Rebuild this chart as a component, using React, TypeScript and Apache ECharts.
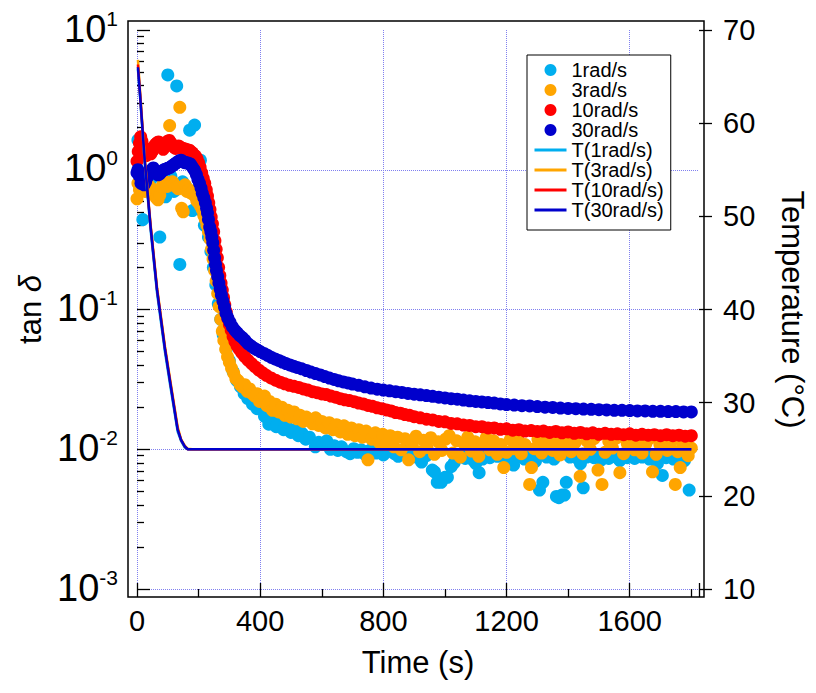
import React, { useEffect, useRef } from "react";
import * as echarts from "echarts";

const FONT = '"Liberation Sans", Arial, Helvetica, sans-serif';

// ---- tan δ data: [time (s), tan δ] ----
const tanD_1rad: [number, number][] = [
  [3,1.63],[10,0.95],[19,0.44],[30,0.72],[45,0.85],[60,0.68],[74,0.33],[85,0.78],[93,0.64],[100,4.77],[110,0.90],[120,0.70],[129,3.98],[139,0.21],[148,0.82],[160,0.75],[171,1.92],[180,0.51],[187,2.09],[195,0.62],[206,1.17],[213,0.50],[219,0.40],[225,0.42],[232,0.33],[240,0.26],[248,0.20],[256,0.15],[264,0.11],[272,0.085],[280,0.066],[290,0.052],[300,0.043],[312,0.036],[324,0.031],[336,0.028],[348,0.025],[360,0.023],[375,0.021],[390,0.0195],[402,0.020],[414,0.0172],[428,0.0151],[440,0.016],[452,0.0145],[464,0.0152],[476,0.0138],[488,0.0143],[500,0.0132],[512,0.0138],[524,0.0125],[536,0.013],[548,0.0118],[560,0.0122],[579,0.0104],[590,0.0112],[604,0.0108],[616,0.0115],[628,0.0100],[640,0.0106],[652,0.0098],[664,0.0104],[680,0.0096],[692,0.0093],[704,0.0101],[716,0.0095],[728,0.0099],[740,0.0092],[752,0.0097],[764,0.0101],[776,0.0094],[788,0.0098],[800,0.0091],[812,0.0096],[824,0.0100],[836,0.0093],[848,0.0089],[860,0.0095],[872,0.0099],[884,0.0092],[896,0.0096],[908,0.0088],[924,0.0081],[940,0.0090],[959,0.0071],[966,0.0069],[975,0.0058],[988,0.0058],[1000,0.0063],[1008,0.0063],[1020,0.0075],[1030,0.008],[1042,0.0088],[1054,0.0093],[1066,0.0086],[1078,0.0091],[1090,0.0084],[1100,0.0079],[1111,0.0068],[1122,0.0085],[1134,0.0092],[1146,0.0087],[1158,0.0094],[1170,0.0089],[1182,0.0091],[1194,0.0086],[1206,0.0093],[1223,0.0077],[1234,0.0088],[1246,0.0093],[1258,0.0085],[1270,0.0091],[1282,0.0087],[1294,0.0082],[1307,0.0051],[1318,0.0058],[1330,0.0088],[1342,0.0093],[1354,0.0085],[1362,0.0046],[1370,0.0045],[1380,0.0047],[1388,0.0047],[1394,0.0058],[1406,0.0088],[1418,0.0093],[1430,0.0086],[1440,0.0079],[1449,0.0053],[1460,0.0088],[1472,0.0094],[1484,0.0087],[1496,0.0091],[1508,0.0084],[1520,0.0093],[1532,0.0086],[1544,0.0091],[1556,0.0088],[1568,0.0083],[1580,0.0092],[1592,0.0087],[1604,0.0094],[1616,0.0086],[1628,0.0091],[1640,0.0088],[1652,0.0093],[1664,0.0085],[1676,0.0089],[1690,0.0079],[1706,0.0065],[1718,0.0087],[1730,0.0092],[1742,0.0085],[1754,0.0091],[1766,0.0086],[1778,0.0083],[1793,0.0051]
];

const tanD_3rad: [number, number][] = [
  [0,0.62],[3,0.80],[8,0.72],[14,0.86],[20,0.80],[26,0.70],[32,0.82],[38,0.77],[44,0.74],[50,0.68],[56,0.72],[62,0.63],[68,0.61],[74,0.66],[80,0.75],[86,0.84],[92,0.80],[98,0.76],[106,2.07],[115,0.82],[122,0.78],[128,0.75],[134,0.73],[139,2.80],[145,0.53],[150,0.50],[156,0.78],[162,0.70],[168,0.72],[175,0.68],[182,0.70],[188,0.65],[194,0.60],[200,0.58],[206,0.55],[212,0.52],[217,0.47],[222,0.44],[227,0.40],[232,0.36],[237,0.32],[242,0.27],[247,0.23],[252,0.19],[257,0.16],[262,0.13],[267,0.105],[272,0.085],[277,0.07],[282,0.06],[288,0.052],[294,0.046],[300,0.042],[307,0.038],[314,0.035],[321,0.032],[328,0.031],[335,0.029],[342,0.028],[350,0.029],[358,0.026],[366,0.027],[374,0.025],[382,0.024],[390,0.025],[398,0.022],[406,0.0225],[414,0.024],[422,0.0205],[430,0.022],[440,0.019],[450,0.021],[460,0.0185],[470,0.020],[480,0.0175],[490,0.019],[500,0.017],[510,0.0185],[520,0.0165],[530,0.0175],[540,0.0158],[550,0.017],[560,0.0162],[570,0.0152],[580,0.0168],[590,0.0148],[600,0.0158],[612,0.0142],[624,0.0155],[636,0.0138],[648,0.015],[660,0.0133],[672,0.0147],[684,0.0128],[696,0.0142],[708,0.0125],[720,0.0138],[732,0.0122],[744,0.0135],[750,0.0084],[762,0.0118],[774,0.0131],[786,0.0112],[798,0.0128],[810,0.0108],[822,0.0125],[834,0.0104],[846,0.0122],[858,0.0099],[870,0.0119],[882,0.0084],[894,0.0108],[906,0.0124],[918,0.0096],[930,0.0116],[942,0.0103],[954,0.0121],[966,0.0092],[978,0.0113],[990,0.0098],[1002,0.0118],[1014,0.0125],[1026,0.0094],[1038,0.0115],[1050,0.0088],[1062,0.011],[1074,0.0122],[1086,0.0097],[1098,0.0113],[1110,0.0089],[1122,0.0108],[1134,0.0121],[1146,0.0099],[1158,0.0115],[1170,0.0092],[1182,0.0108],[1191,0.0074],[1200,0.0095],[1212,0.0117],[1224,0.0101],[1236,0.0119],[1248,0.0093],[1260,0.0108],[1275,0.0056],[1281,0.0074],[1290,0.0101],[1302,0.0118],[1314,0.0094],[1326,0.0109],[1338,0.0122],[1350,0.0098],[1362,0.0113],[1374,0.0091],[1386,0.0107],[1398,0.012],[1410,0.0096],[1422,0.0111],[1439,0.0064],[1448,0.0093],[1460,0.0115],[1472,0.01],[1484,0.0119],[1497,0.0071],[1510,0.0056],[1520,0.0095],[1532,0.0114],[1544,0.0102],[1556,0.012],[1568,0.0068],[1580,0.0093],[1592,0.011],[1604,0.0121],[1616,0.0099],[1628,0.0114],[1640,0.0094],[1652,0.0109],[1664,0.0119],[1674,0.0069],[1686,0.0092],[1698,0.0108],[1710,0.012],[1722,0.0098],[1734,0.0113],[1748,0.0056],[1756,0.0096],[1764,0.0074],[1772,0.0107],[1780,0.0116],[1790,0.009],[1800,0.0102]
];

const tanD_10rad: [number, number][] = [
  [0,1.15],[4,1.35],[8,1.55],[12,1.72],[16,1.60],[20,1.46],[25,1.32],[30,1.26],[35,1.35],[40,1.40],[45,1.30],[50,1.36],[55,1.46],[60,1.52],[65,1.56],[70,1.58],[75,1.55],[80,1.46],[85,1.40],[90,1.48],[95,1.56],[100,1.60],[105,1.62],[110,1.56],[115,1.50],[120,1.45],[125,1.42],[130,1.46],[135,1.48],[140,1.45],[145,1.43],[150,1.42],[155,1.40],[160,1.40],[165,1.38],[170,1.38],[175,1.35],[180,1.32],[185,1.28],[190,1.25],[195,1.20],[200,1.12],[205,1.04],[210,0.95],[215,0.87],[220,0.80],[225,0.72],[229,0.65],[233,0.58],[237,0.52],[241,0.46],[245,0.41],[249,0.36],[253,0.31],[257,0.27],[261,0.235],[265,0.20],[269,0.175],[273,0.155],[277,0.138],[281,0.122],[285,0.108],[290,0.096],[295,0.086],[300,0.078],[306,0.071],[312,0.064],[318,0.059],[325,0.055],[332,0.052],[340,0.049],[350,0.046],[360,0.0435],[372,0.041],[384,0.0388],[396,0.0368],[408,0.0352],[420,0.0338],[435,0.0324],[450,0.0312],[465,0.0302],[480,0.0294],[495,0.0287],[510,0.0282],[525,0.0277],[540,0.0270],[555,0.0265],[570,0.0258],[585,0.0254],[600,0.0249],[615,0.0246],[630,0.0240],[645,0.0236],[660,0.0230],[675,0.0226],[690,0.0223],[705,0.0219],[720,0.0214],[735,0.0211],[750,0.0206],[765,0.0203],[780,0.0198],[795,0.0195],[810,0.0191],[825,0.0188],[840,0.0183],[855,0.0181],[870,0.0177],[885,0.0175],[900,0.0171],[920,0.0168],[940,0.0164],[960,0.0162],[980,0.0158],[1000,0.0157],[1020,0.0153],[1040,0.0152],[1060,0.0149],[1080,0.0148],[1100,0.0145],[1120,0.0145],[1140,0.0142],[1160,0.0142],[1180,0.0139],[1200,0.0140],[1220,0.0137],[1240,0.0138],[1260,0.0135],[1280,0.0136],[1300,0.0134],[1320,0.0135],[1340,0.0132],[1360,0.0134],[1380,0.0131],[1400,0.0133],[1420,0.0130],[1440,0.0132],[1460,0.0129],[1480,0.0131],[1500,0.0128],[1520,0.0130],[1540,0.0128],[1560,0.0129],[1580,0.0127],[1600,0.0129],[1620,0.0126],[1640,0.0128],[1660,0.0126],[1680,0.0127],[1700,0.0125],[1720,0.0127],[1740,0.0125],[1760,0.0126],[1780,0.0124],[1800,0.0125]
];

const tanD_30rad: [number, number][] = [
  [0,0.95],[3,1.0],[8,0.90],[13,0.80],[18,0.84],[23,0.78],[28,0.82],[33,0.88],[38,0.94],[43,0.97],[48,1.0],[53,1.03],[58,0.98],[63,0.94],[68,0.92],[73,0.93],[78,0.96],[83,0.98],[88,1.0],[93,1.01],[98,1.02],[103,1.03],[108,1.04],[113,1.06],[118,1.08],[123,1.10],[128,1.12],[133,1.14],[138,1.16],[143,1.17],[148,1.15],[153,1.13],[158,1.12],[163,1.12],[168,1.11],[173,1.10],[178,1.06],[183,1.02],[188,0.98],[193,0.92],[198,0.85],[203,0.80],[208,0.74],[212,0.68],[217,0.63],[222,0.58],[226,0.53],[229,0.49],[232,0.44],[236,0.39],[240,0.36],[243,0.33],[246,0.30],[249,0.265],[252,0.235],[255,0.21],[258,0.19],[262,0.172],[266,0.155],[270,0.14],[274,0.127],[279,0.115],[284,0.104],[289,0.094],[295,0.087],[302,0.081],[310,0.075],[318,0.071],[326,0.068],[334,0.065],[342,0.063],[351,0.060],[360,0.057],[370,0.055],[380,0.053],[390,0.0515],[400,0.050],[412,0.0485],[424,0.047],[436,0.0455],[448,0.0443],[460,0.0432],[472,0.0421],[484,0.041],[496,0.0401],[508,0.0393],[520,0.0385],[535,0.0376],[550,0.0366],[565,0.0357],[580,0.0348],[595,0.034],[610,0.0331],[625,0.0323],[640,0.0316],[655,0.0309],[670,0.0303],[685,0.0298],[700,0.0293],[720,0.0287],[740,0.0280],[760,0.0274],[780,0.0269],[800,0.0265],[820,0.0262],[840,0.0258],[860,0.0255],[880,0.0251],[900,0.0248],[920,0.0245],[940,0.0242],[960,0.0239],[980,0.0236],[1000,0.0233],[1020,0.0230],[1040,0.0228],[1060,0.0225],[1080,0.0222],[1100,0.0220],[1120,0.0218],[1140,0.0216],[1160,0.0214],[1180,0.0211],[1200,0.0209],[1225,0.0207],[1250,0.0205],[1275,0.0204],[1300,0.0202],[1325,0.0200],[1350,0.0199],[1375,0.0197],[1400,0.0196],[1425,0.0195],[1450,0.0194],[1475,0.0193],[1500,0.0192],[1525,0.0191],[1550,0.0190],[1575,0.0190],[1600,0.0189],[1625,0.0188],[1650,0.0188],[1675,0.0187],[1700,0.0187],[1725,0.0186],[1750,0.0186],[1775,0.0185],[1800,0.0185]
];

// ---- temperature data (°C) ----
const tempTime = [3, 10, 25, 44, 65, 91, 108, 132, 143, 155, 165, 180, 400, 800, 1200, 1600, 1800];
const temp_1rad = [65.8, 62.8, 55.8, 48.6, 41.8, 35.4, 31.8, 26.9, 25.9, 25.2, 25.0, 25.0, 25.0, 25.0, 25.0, 25.0, 25.0];
const temp_3rad = [66.8, 63.4, 56.3, 49.2, 42.4, 36.0, 32.4, 27.4, 26.1, 25.4, 25.05, 25.0, 25.0, 25.0, 25.0, 25.0, 25.0];
const temp_10rad = [66.3, 63.1, 56.1, 49.0, 42.2, 35.8, 32.2, 27.2, 26.0, 25.3, 25.0, 25.0, 25.0, 25.0, 25.0, 25.0, 25.0];
const temp_30rad = [66.0, 63.0, 56.0, 48.9, 42.1, 35.7, 32.1, 27.1, 26.0, 25.3, 25.0, 25.0, 25.0, 25.0, 25.0, 25.0, 25.0];

const scatterNames = ["1rad/s", "3rad/s", "10rad/s", "30rad/s"];
const lineNames = ["T(1rad/s)", "T(3rad/s)", "T(10rad/s)", "T(30rad/s)"];
const colors = ["#00AEEF", "#FFA500", "#FF0000", "#0000CC"];

const X_MIN = 0;
const X_MAX = 1825;
const X_INTERVAL = 400;
const TAN_MIN = 0.001;
const TAN_MAX = 10;
const T_MIN = 10;
const T_MAX = 70;
const T_INTERVAL = 10;

const zip = (t: number[], v: number[]) => t.map((x, i) => [x, v[i]]);

export default function App() {
  const ref = useRef<HTMLDivElement>(null);

  useEffect(() => {
    document.body.style.margin = "0";
    if (!ref.current) return;
    const chart = echarts.init(ref.current, undefined, { renderer: "svg" });

    const gridLine = { show: true, showMaxLine: false, lineStyle: { color: "#8080f0", type: "dotted", width: 1 } };
    const tickStyle = { color: "#000", width: 1.3 };

    const scatterData = [tanD_1rad, tanD_3rad, tanD_10rad, tanD_30rad];
    const temps = [temp_1rad, temp_3rad, temp_10rad, temp_30rad];

    const option: any = {
      animation: false,
      backgroundColor: "#fff",
      textStyle: { fontFamily: FONT },
      grid: { left: 137, top: 30, width: 567, height: 559, containLabel: false },
      legend: {
        orient: "vertical",
        left: 527,
        top: 55,
        itemWidth: 32,
        itemHeight: 12,
        itemGap: 0,
        itemTextGap: 12,
        padding: [5, 7, 10, 6],
        borderColor: "#000",
        borderWidth: 1,
        backgroundColor: "#fff",
        textStyle: { fontSize: 20, fontFamily: FONT, color: "#000" },
        data: [
          ...scatterNames.map((name) => ({ name })),
          ...lineNames.map((name) => ({ name, itemStyle: { opacity: 0 }, lineStyle: { width: 3 } })),
        ],
      },
      graphic: [
        {
          type: "rect",
          shape: { x: 128, y: 21, width: 576, height: 576 },
          style: { fill: "none", stroke: "#000", lineWidth: 1.5 },
          z: 100,
          silent: true,
        },
      ],
      xAxis: {
        type: "value",
        min: X_MIN,
        max: X_MAX,
        interval: X_INTERVAL,
        offset: 8,
        axisLine: { show: false },
        axisTick: { show: true, inside: true, length: 14, lineStyle: tickStyle },
        minorTick: { show: true, splitNumber: 2, length: 8, lineStyle: tickStyle },
        axisLabel: {
          fontSize: 29,
          fontFamily: FONT,
          color: "#000",
          margin: 9,
          showMaxLabel: false,
          formatter: (v: number) => (v % X_INTERVAL === 0 ? String(v) : ""),
        },
        splitLine: gridLine,
        name: "Time (s)",
        nameLocation: "middle",
        nameGap: 50,
        nameTextStyle: { fontSize: 31, fontFamily: FONT, color: "#000" },
      },
      yAxis: [
        {
          type: "log",
          logBase: 10,
          min: TAN_MIN,
          max: TAN_MAX,
          position: "left",
          offset: 9,
          axisLine: { show: false },
          axisTick: { show: true, inside: true, length: 13, lineStyle: tickStyle },
          minorTick: { show: true, splitNumber: 9, length: 7, lineStyle: tickStyle },
          axisLabel: {
            margin: 10,
            padding: [0, 0, 5, 0],
            formatter: (v: number) => `{b|10}{s|${Math.round(Math.log10(v))}}`,
            rich: {
              b: { fontSize: 38, fontFamily: FONT, color: "#000", lineHeight: 40, padding: [5, 0, 0, 0], verticalAlign: "bottom" },
              s: { fontSize: 21, fontFamily: FONT, color: "#000", lineHeight: 21, verticalAlign: "top" },
            },
          },
          splitLine: gridLine,
          name: "{a|tan }{d|δ}",
          nameLocation: "middle",
          nameRotate: 90,
          nameGap: 76,
          nameTextStyle: {
            rich: {
              a: { fontSize: 31, fontFamily: FONT, color: "#000" },
              d: { fontSize: 31, fontFamily: FONT, color: "#000", fontStyle: "italic" },
            },
          },
        },
        {
          type: "value",
          min: T_MIN,
          max: T_MAX,
          interval: T_INTERVAL,
          position: "right",
          axisLine: { show: false },
          axisTick: { show: true, inside: false, length: 13, lineStyle: tickStyle },
          axisLabel: { fontSize: 29, fontFamily: FONT, color: "#000", margin: 24 },
          splitLine: { show: false },
          name: "Temperature (°C)",
          nameLocation: "middle",
          nameRotate: -90,
          nameGap: 78,
          nameTextStyle: { fontSize: 31, fontFamily: FONT, color: "#000" },
        },
      ],
      series: [
        ...scatterNames.map((name, i) => ({
          name,
          type: "scatter",
          yAxisIndex: 0,
          symbol: "circle",
          symbolSize: 13,
          itemStyle: { color: colors[i], opacity: 1 },
          data: scatterData[i],
          z: 2 + i,
        })),
        ...lineNames.map((name, i) => ({
          name,
          type: "line",
          yAxisIndex: 1,
          symbol: "none",
          showSymbol: false,
          lineStyle: { color: colors[i], width: 2.5 },
          itemStyle: { color: colors[i] },
          data: zip(tempTime, temps[i]),
          z: 10 + i,
        })),
      ],
    };

    chart.setOption(option);
    return () => chart.dispose();
  }, []);

  return <div ref={ref} style={{ width: 816, height: 693 }} />;
}
